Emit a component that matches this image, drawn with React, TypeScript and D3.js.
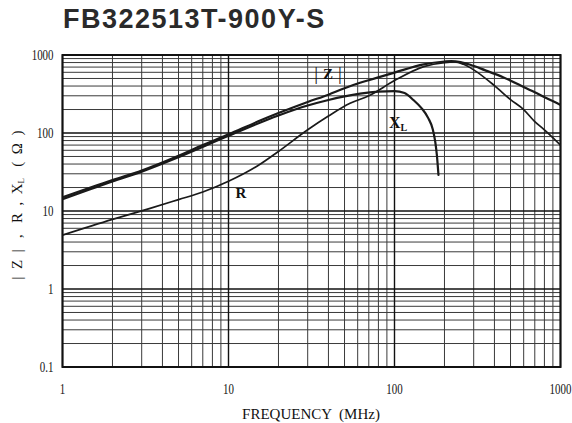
import React from "react";
import * as d3 from "d3";

// ---- data ----
const zFreq = [1, 2, 3, 5, 7, 10, 15, 20, 30, 40, 50, 62, 70, 100, 150, 200, 220, 250, 286, 350, 454, 600, 721, 850, 1000];
const zVal = [15, 25, 33, 51, 70, 96, 140, 180, 250, 310, 375, 440, 475, 595, 760, 825, 835, 810, 750, 640, 515, 390, 323, 270, 229];

const rFreq = [1, 2, 3.37, 5, 7, 10, 15, 20, 30, 40, 54, 70, 100, 150, 200, 230, 260, 300, 400, 500, 600, 700, 800, 1000];
const rVal = [4.9, 7.8, 10.8, 14, 17.5, 24, 38, 58, 110, 165, 240, 300, 470, 710, 800, 815, 760, 645, 405, 268, 200, 140, 110, 70];

const xlFreq = [1, 2, 3, 5, 10, 20, 30, 40, 50, 62, 80, 100, 115, 130, 145, 160, 170, 176, 180, 184];
const xlVal = [14.2, 24, 32, 49, 92, 168, 225, 265, 295, 320, 340, 345, 325, 265, 210, 154, 112, 77, 52, 29];

const xTickValues = [1, 10, 100, 1000];
const xTickLabels = ["1", "10", "100", "1000"];
const yTickValues = [0.1, 1, 10, 100, 1000];
const yTickLabels = ["0.1", "1", "10", "100", "1000"];

const title = "FB322513T-900Y-S";
const xTitle = "FREQUENCY  (MHz)";

const W = 572;
const H = 423;
const M = { left: 62.5, right: 560.5, top: 55, bottom: 367 };

const serif = "'Liberation Serif', 'DejaVu Serif', serif";

export default function App() {
  const x = d3.scaleLog().domain([1, 1000]).range([M.left, M.right]);
  const y = d3.scaleLog().domain([0.1, 1000]).range([M.bottom, M.top]);

  const minorX: number[] = [];
  const minorY: number[] = [];
  for (let e = 0; e < 3; e++) for (let k = 2; k <= 9; k++) minorX.push(k * Math.pow(10, e));
  for (let e = -1; e < 3; e++) for (let k = 2; k <= 9; k++) minorY.push(k * Math.pow(10, e));

  const line = d3
    .line<[number, number]>()
    .x((d) => x(d[0]))
    .y((d) => y(d[1]))
    .curve(d3.curveMonotoneX);

  const zPath = line(zFreq.map((f, i) => [f, zVal[i]]) as [number, number][]) || "";
  const rPath = line(rFreq.map((f, i) => [f, rVal[i]]) as [number, number][]) || "";
  const xlPath = line(xlFreq.map((f, i) => [f, xlVal[i]]) as [number, number][]) || "";

  return (
    <svg
      width={W}
      height={H}
      viewBox={`0 0 ${W} ${H}`}
      style={{ position: "absolute", left: 0, top: 0, background: "#fff" }}
    >
      <rect x={0} y={0} width={W} height={H} fill="#fff" />
      <text
        x={63}
        y={28}
        fontFamily="'Liberation Sans', Arial, sans-serif"
        fontWeight="bold"
        fontSize={27}
        letterSpacing={1.5}
        fill="#2a2a2a"
      >
        {title}
      </text>

      <defs>
        <clipPath id="plot">
          <rect x={M.left} y={M.top} width={M.right - M.left} height={M.bottom - M.top} />
        </clipPath>
      </defs>

      {/* grid */}
      <g stroke="#3a3a3a" strokeWidth={1}>
        {minorX.map((v) => (
          <line key={"vx" + v} x1={x(v)} x2={x(v)} y1={M.top} y2={M.bottom} />
        ))}
        {minorY.map((v) => (
          <line key={"hy" + v} x1={M.left} x2={M.right} y1={y(v)} y2={y(v)} />
        ))}
      </g>
      <g stroke="#111" strokeWidth={1.4}>
        {xTickValues.map((v) => (
          <line key={"mx" + v} x1={x(v)} x2={x(v)} y1={M.top} y2={M.bottom} />
        ))}
        {yTickValues.map((v) => (
          <line key={"my" + v} x1={M.left} x2={M.right} y1={y(v)} y2={y(v)} />
        ))}
      </g>
      <rect
        x={M.left}
        y={M.top}
        width={M.right - M.left}
        height={M.bottom - M.top}
        fill="none"
        stroke="#111"
        strokeWidth={2}
      />

      {/* curves */}
      <g clipPath="url(#plot)" fill="none" stroke="#1a1a1a" strokeLinejoin="round" strokeLinecap="round">
        <path d={rPath} strokeWidth={1.7} />
        <path d={xlPath} strokeWidth={2.2} />
        <path d={zPath} strokeWidth={2.2} />
      </g>

      {/* curve labels */}
      <g fontFamily={serif} fill="#111">
        <text x={328} y={80} textAnchor="middle" fontSize={15}>
          <tspan fontWeight="normal" fontSize={19}>|</tspan>
          <tspan fontWeight="bold" dx={5} dy={-1}>Z</tspan>
          <tspan fontWeight="normal" fontSize={19} dx={5} dy={1}>|</tspan>
        </text>
        <text x={241} y={198} textAnchor="middle" fontSize={15} fontWeight="bold">R</text>
        <text x={398} y={128} textAnchor="middle" fontSize={16} fontWeight="bold">
          X<tspan fontSize={10} dy={3}>L</tspan>
        </text>
      </g>

      {/* tick labels */}
      <g fontFamily={serif} fill="#111" fontSize={14}>
        {yTickValues.map((v, i) => (
          <g key={"yl" + v} transform={`translate(${M.left - 9},${y(v) + 4.5}) scale(0.78,1)`}>
            <text textAnchor="end">{yTickLabels[i]}</text>
          </g>
        ))}
        {xTickValues.map((v, i) => (
          <g key={"xl" + v} transform={`translate(${x(v)},${M.bottom + 27}) scale(0.78,1)`}>
            <text textAnchor="middle">{xTickLabels[i]}</text>
          </g>
        ))}
      </g>

      <text
        x={311}
        y={419}
        textAnchor="middle"
        fontFamily={serif}
        fontSize={15}
        fill="#111"
        style={{ whiteSpace: "pre" }}
      >
        {xTitle}
      </text>

      <text
        transform={`translate(22,205) rotate(-90)`}
        textAnchor="middle"
        fontFamily={serif}
        fontSize={15}
        fill="#111"
        style={{ whiteSpace: "pre" }}
      >
        {"|  Z  |   ,   R  ,  X"}
        <tspan fontSize={9} dy={2}>L</tspan>
        <tspan dy={-2}>{"   (  Ω  )"}</tspan>
      </text>
    </svg>
  );
}
